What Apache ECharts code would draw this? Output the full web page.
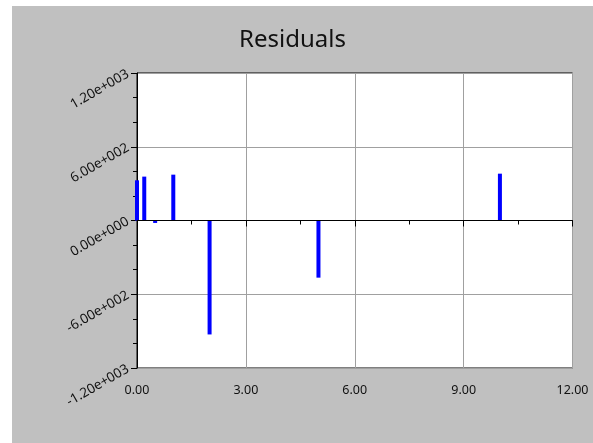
<!DOCTYPE html>
<html>
<head>
<meta charset="utf-8">
<script src="https://cdn.jsdelivr.net/npm/echarts@6/dist/echarts.min.js"></script>
<style>
html,body{margin:0;padding:0;background:#fff;width:593px;height:443px;overflow:hidden;}
#c{position:absolute;left:12px;top:6px;width:581px;height:437px;}
</style>
</head>
<body>
<div id="c"></div>
<script>
var xValues = [0, 0.2, 0.5, 1, 2, 5, 10];
var residuals = [327, 357, -20, 373, -927, -465, 381];
var titleText = 'Residuals';

function expFmt(v) {
  var s = Number(v).toExponential(2);
  var parts = s.split('e');
  var sign = parts[1].charAt(0);
  var digits = parts[1].slice(1);
  while (digits.length < 3) digits = '0' + digits;
  return parts[0] + 'e' + sign + digits;
}

var points = xValues.map(function (x, i) { return [x, residuals[i]]; });

var chart = echarts.init(document.getElementById('c'));
chart.setOption({
  backgroundColor: '#c0c0c0',
  animation: false,
  title: {
    text: titleText,
    left: 227,
    top: 22,
    padding: 0,
    textStyle: { fontFamily: 'Noto Sans', fontSize: 24, fontWeight: 'normal', color: '#111' }
  },
  grid: {
    left: 125, top: 67, width: 435.5, height: 295,
    show: true, backgroundColor: '#ffffff', borderColor: '#000', borderWidth: 1
  },
  xAxis: {
    type: 'value', min: 0, max: 12, interval: 3,
    axisLine: { show: true, lineStyle: { color: '#000', width: 1 } },
    axisTick: { show: true, length: 6, lineStyle: { color: '#000' } },
    minorTick: { show: true, splitNumber: 2, length: 4, lineStyle: { color: '#000' } },
    splitLine: { show: true, lineStyle: { color: '#a0a0a0', width: 1 } },
    axisLabel: {
      color: '#111', fontFamily: 'Noto Sans', fontSize: 12.5, margin: 16,
      formatter: function (v) { return Number(v).toFixed(2); }
    }
  },
  yAxis: {
    type: 'value', min: -1200, max: 1200, interval: 600,
    axisLine: { show: true, lineStyle: { color: '#000', width: 1 } },
    axisTick: { show: true, length: 6, lineStyle: { color: '#000' } },
    minorTick: { show: true, splitNumber: 3, length: 4, lineStyle: { color: '#000' } },
    splitLine: { show: true, lineStyle: { color: '#a0a0a0', width: 1 } },
    axisLabel: {
      color: '#111', fontFamily: 'Noto Sans', fontSize: 13.5, rotate: 30, margin: 9,
      formatter: expFmt
    }
  },
  series: [{
    type: 'bar',
    data: points,
    barWidth: 4,
    itemStyle: { color: '#0000ff' },
    markLine: {
      silent: true, symbol: 'none', label: { show: false },
      lineStyle: { color: '#000', type: 'solid', width: 1 },
      data: [{ yAxis: 0 }]
    }
  }]
});
</script>
</body>
</html>
